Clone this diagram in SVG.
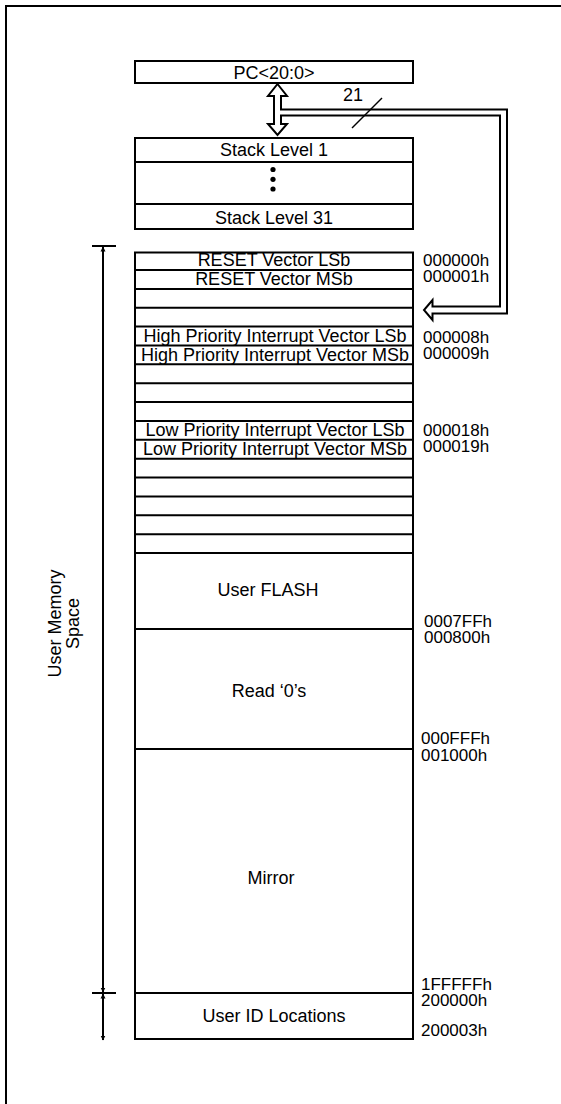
<svg xmlns="http://www.w3.org/2000/svg" width="561" height="1104" viewBox="0 0 561 1104">
<style>
.box{fill:#fff;stroke:#000;stroke-width:2}
.ln{stroke:#000;stroke-width:2;fill:none}
.thin{stroke:#000;stroke-width:1.5;fill:none}
text{font-family:"Liberation Sans",Arial,sans-serif;font-size:18px;fill:#000}
.c{text-anchor:middle}
.a{font-size:17px}
</style>
<defs>
<marker id="ah" viewBox="0 0 10 10" refX="9" refY="5" markerWidth="5" markerHeight="7" markerUnits="userSpaceOnUse" orient="auto-start-reverse"><path d="M0,0 L10,5 L0,10 Z" fill="#000"/></marker>
</defs>
<path class="ln" d="M6,1104 V6 H561"/>

<g id="pc"><rect class="box" x="135" y="61" width="278" height="22"/><text class="c" x="274" y="78.5">PC&lt;20:0&gt;</text></g>

<g id="stack">
<rect class="box" x="135" y="138" width="278" height="91"/>
<line class="ln" x1="135" y1="162" x2="413" y2="162"/>
<line class="ln" x1="135" y1="204" x2="413" y2="204"/>
<text class="c" x="274" y="156">Stack Level 1</text>
<circle cx="273" cy="169.5" r="2.6"/><circle cx="273" cy="179.3" r="2.6"/><circle cx="273" cy="189" r="2.6"/>
<text class="c" x="274" y="224">Stack Level 31</text>
</g>

<g id="connectors">
<path class="box" d="M277.5,84 L287,96 L281,96 L281,109.5 L507,109.5 L507,313.5 L432.5,313.5 L432.5,320 L424,310 L432.5,300 L432.5,306.5 L500,306.5 L500,115.5 L281,115.5 L281,124 L287,124 L277.5,135 L268,124 L274,124 L274,96 L268,96 Z"/>
<line class="thin" x1="352" y1="128" x2="382" y2="98"/>
<text class="c" x="353" y="101">21</text>
<line class="ln" x1="92" y1="246" x2="116" y2="246"/>
<line class="ln" x1="92" y1="993" x2="116" y2="993"/>
<line class="ln" x1="103" y1="247" x2="103" y2="992" marker-start="url(#ah)" marker-end="url(#ah)"/>
<line class="ln" x1="103" y1="994" x2="103" y2="1040" marker-start="url(#ah)" marker-end="url(#ah)"/>
</g>

<g id="label-ums"><g transform="translate(60.5,623.5) rotate(-90)"><text class="c" x="0" y="0">User Memory</text><text class="c" x="0" y="18.5">Space</text></g></g>

<g id="memory">
<rect class="box" x="135" y="252.5" width="278" height="786.5"/>
<path class="ln" d="M135,270H413M135,288.9H413M135,307.7H413M135,326.6H413M135,345.5H413M135,364.3H413M135,383.2H413M135,402.1H413M135,420.9H413M135,439.8H413M135,458.7H413M135,477.6H413M135,496.4H413M135,515.3H413M135,534.2H413M135,553H413M135,629H413M135,749H413M135,993H413"/>
<text class="c" x="274" y="266">RESET Vector LSb</text>
<text class="c" x="274" y="284.5">RESET Vector MSb</text>
<text class="c" x="275" y="342">High Priority Interrupt Vector LSb</text>
<text class="c" x="275" y="360.5">High Priority Interrupt Vector MSb</text>
<text class="c" x="275" y="436">Low Priority Interrupt Vector LSb</text>
<text class="c" x="275" y="454.5">Low Priority Interrupt Vector MSb</text>
<text class="c" x="268" y="596">User FLASH</text>
<text class="c" x="269" y="697">Read ‘0’s</text>
<text class="c" x="271" y="884">Mirror</text>
<text class="c" x="274" y="1022">User ID Locations</text>
</g>

<g id="addresses">
<text class="a" x="423" y="266">000000h</text>
<text class="a" x="423" y="282">000001h</text>
<text class="a" x="423" y="343">000008h</text>
<text class="a" x="423" y="359">000009h</text>
<text class="a" x="423" y="436">000018h</text>
<text class="a" x="423" y="452">000019h</text>
<text class="a" x="424" y="627">0007FFh</text>
<text class="a" x="424" y="643">000800h</text>
<text class="a" x="421" y="744">000FFFh</text>
<text class="a" x="421" y="761">001000h</text>
<text class="a" x="421" y="990">1FFFFFh</text>
<text class="a" x="421" y="1006">200000h</text>
<text class="a" x="421" y="1036">200003h</text>
</g>
</svg>
